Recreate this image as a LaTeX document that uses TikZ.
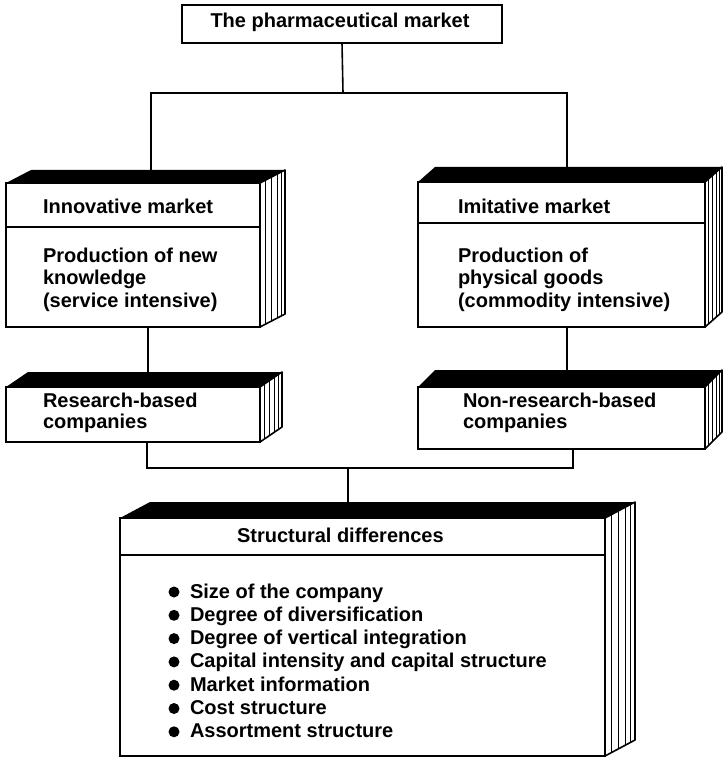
\documentclass[tikz,border=0pt]{standalone}
\usepackage{fontspec}
\setmainfont{Liberation Sans}
\usetikzlibrary{calc}
\tikzset{
  face/.style={draw, line width=1.9pt, fill=white, inner sep=0pt, outer sep=0pt, anchor=north west},
  conn/.style={line width=1.6pt},
  divider/.style={line width=1.6pt},
  txt/.style={anchor=base west, inner sep=0pt, outer sep=0pt, font=\fontsize{20}{23}\selectfont\bfseries},
  bul/.style={circle, fill=black, inner sep=0pt, minimum size=11pt},
}
\newcommand\bookdeco[3]{%
  \fill[black, line join=round] (#1.north west) -- ++(#2,#3) -- ($(#1.north east)+(#2,#3)$) -- (#1.north east) -- cycle;
  \draw[line width=1.6pt, fill=white, line join=round] (#1.north east) -- ($(#1.north east)+(#2,#3)$) -- ($(#1.south east)+(#2,#3)$) -- (#1.south east) -- cycle;
  \foreach \k in {0.22,0.45,0.68,0.86}{\draw[line width=1pt] ($(#1.north east)+\k*(#2,#3)$) -- ($(#1.south east)+\k*(#2,#3)$);}
}
\begin{document}
\begin{tikzpicture}[x=1pt,y=-1pt]
\useasboundingbox (0,0) rectangle (723,762);

% junction coordinates
\coordinate (jl) at (151,93);
\coordinate (jm) at (343,93);
\coordinate (jr) at (567,93);
\coordinate (cl) at (148,0);
\coordinate (cr) at (567,0);
\coordinate (bl) at (147,468);
\coordinate (bm) at (348,468);
\coordinate (br) at (573,468);

% front faces
\node[face, minimum width=320pt, minimum height=38pt] (top) at (182,5) {};
\node[face, minimum width=254pt, minimum height=144pt] (inno) at (6,183) {};
\node[face, minimum width=287pt, minimum height=145pt] (imit) at (418,182) {};
\node[face, minimum width=254pt, minimum height=55pt] (res) at (6,387) {};
\node[face, minimum width=287pt, minimum height=62pt] (nonres) at (418,387) {};
\node[face, minimum width=485pt, minimum height=238pt] (struct) at (120,518) {};

% connectors
\draw[conn] (top.south) -- (jm);
\draw[conn] (inno.north -| jl) -- (jl) -- (jr) -- (imit.north -| jr);
\draw[conn] (inno.south -| cl) -- (res.north -| cl);
\draw[conn] (imit.south -| cr) -- (nonres.north -| cr);
\draw[conn] (res.south -| bl) -- (bl) -- (br) -- (nonres.south -| br);
\draw[conn] (bm) -- (struct.north -| bm);

% 3D decorations
\bookdeco{inno}{25}{-13}
\bookdeco{imit}{17}{-15}
\bookdeco{res}{22}{-15}
\bookdeco{nonres}{17}{-17}
\bookdeco{struct}{30}{-16}

% dividers
\draw[divider] (inno.west |- 0,227) -- (inno.east |- 0,227);
\draw[divider] (imit.west |- 0,223) -- (imit.east |- 0,223);
\draw[divider] (struct.west |- 0,555) -- (struct.east |- 0,555);

% texts
\node[txt, anchor=base] (t0) at (340,28) {The pharmaceutical market};
\node[txt] (t1) at (43,213) {Innovative market};
\node[txt] (t2) at (43,262) {Production of new};
\node[txt] (t3) at (43,284.5) {knowledge};
\node[txt] (t4) at (43,307) {(service intensive)};
\node[txt] (u1) at (458,213) {Imitative market};
\node[txt] (u2) at (458,262) {Production of};
\node[txt] (u3) at (458,284.5) {physical goods};
\node[txt] (u4) at (458,307) {(commodity intensive)};
\node[txt] (r1) at (43,407) {Research-based};
\node[txt] (r2) at (43,428) {companies};
\node[txt] (n1) at (463,407) {Non-research-based};
\node[txt] (n2) at (463,428) {companies};
\node[txt] (sd) at (237,542) {Structural differences};

\foreach \t [count=\i] in {Size of the company, Degree of diversification, Degree of vertical integration, Capital intensity and capital structure, Market information, Cost structure, Assortment structure}{
  \node[bul] (b\i) at (174,{592+23.3*(\i-1)}) {};
  \node[txt] (s\i) at (190,{598+23.3*(\i-1)}) {\t};
}
\end{tikzpicture}
\end{document}
